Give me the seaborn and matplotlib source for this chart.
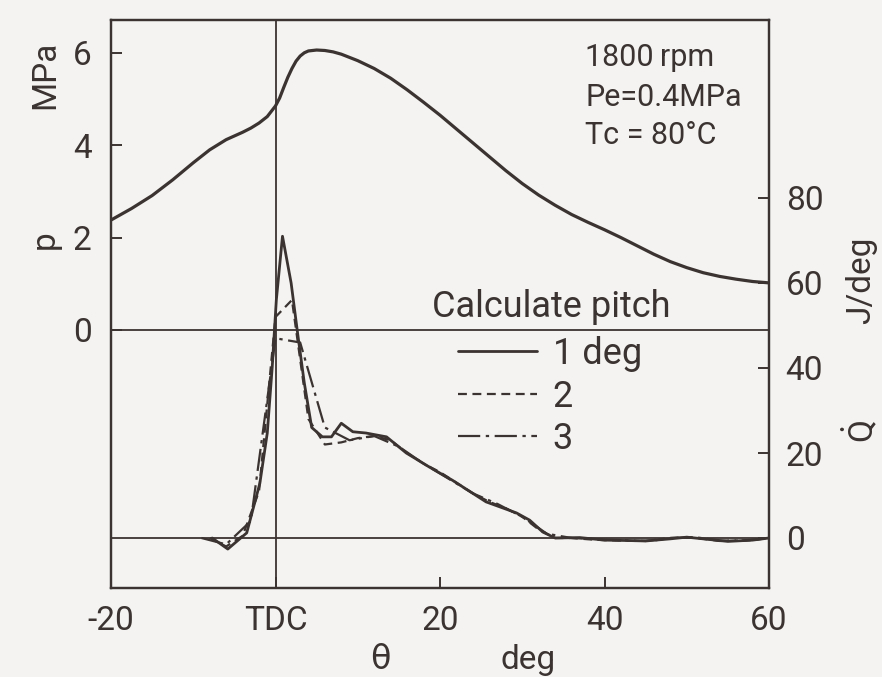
import matplotlib
matplotlib.use("Agg")
import matplotlib.pyplot as plt
import seaborn as sns

sns.set_style("white")
plt.rcParams['font.family'] = ['Roboto', 'DejaVu Sans']
plt.rcParams['mathtext.fontset'] = 'custom'
plt.rcParams['mathtext.rm'] = 'Roboto'

# ---------------- data ----------------
# cylinder pressure p (MPa) vs crank angle theta (deg)
theta_p = [-20, -17.5, -15, -12.5, -10, -8, -6, -4, -3, -2, -1, 0, 0.5, 1, 1.5, 2, 2.5, 3,
           3.5, 4, 5, 6, 7, 8, 9, 10, 12, 14, 16, 18, 20, 22, 24, 26, 28, 30, 32, 34, 36,
           38, 40, 42, 44, 46, 48, 50, 52, 54, 56, 58, 60]
p_vals = [2.38, 2.63, 2.91, 3.25, 3.62, 3.90, 4.12, 4.28, 4.37, 4.48, 4.62, 4.85, 5.02,
          5.25, 5.47, 5.66, 5.82, 5.93, 6.0, 6.04, 6.06, 6.05, 6.02, 5.97, 5.9, 5.83, 5.66,
          5.45, 5.2, 4.93, 4.65, 4.35, 4.05, 3.75, 3.45, 3.17, 2.92, 2.7, 2.5, 2.33, 2.17,
          2.0, 1.82, 1.64, 1.48, 1.35, 1.24, 1.16, 1.1, 1.05, 1.02]

# heat release rate Qdot (J/deg), calculation pitch 1 deg
theta_q1 = [-7.7, -5.8, -3.5, -1.9, -1.0, -0.4, 0.1, 0.85, 1.9, 2.7, 3.5, 4.4, 5.7, 6.8, 8.0,
            9.4, 11, 13.5, 15.9, 18.7, 21.5, 25.6, 29.3, 30.9, 32.5, 34, 37, 40, 43, 45, 48,
            50, 53, 55, 58, 60]
q1_vals = [0, -2.6, 1.2, 12.9, 24.7, 40.2, 56, 71, 60, 48, 36.5, 26, 23.8, 23.8, 27,
           25, 24.7, 23.8, 20, 16.7, 13.6, 8.5, 5.9, 4.2, 1.4, 0, 0.1, -0.5, -0.6, -0.7, -0.2,
           0.2, -0.4, -0.8, -0.5, 0]

# pitch 2 deg
theta_q2 = [-8, -6, -4, -2, 0, 2, 4, 6, 8, 10, 12, 14, 16, 18, 20, 22, 24, 26, 28, 30, 32,
            34, 36, 38, 40, 42, 44, 46, 48, 50, 52, 54, 56, 58, 60]
q2_vals = [0, -2.0, 0.5, 11, 52, 56, 28, 22, 22.5, 23.5, 24, 23, 20, 17.5, 15.5, 13, 10.5,
           8.5, 7, 5, 2, 0, 0, -0.3, -0.5, -0.6, -0.7, -0.6, 0, 0.2, -0.2, -0.7, -0.6, -0.5, 0]

# pitch 3 deg
theta_q3 = [-9, -6, -3, 0, 3, 6, 9, 12, 15, 18, 21, 24, 27, 30, 33, 36, 39, 42, 45, 48, 51,
            54, 57, 60]
q3_vals = [0, -1.5, 4, 47, 46, 26, 23, 24, 21.5, 17.5, 14, 10.5, 8, 5, 1, 0, -0.3, -0.5,
           -0.7, 0, 0.2, -0.6, -0.6, 0]

xtick_vals = [-20, 0, 20, 40, 60]
xtick_labels = ["-20", "TDC", "20", "40", "60"]
p_ticks = [0, 2, 4, 6]
q_ticks = [0, 20, 40, 60, 80]
legend_title = "Calculate pitch"
legend_labels = ["1 deg", "2", "3"]
conditions = ["1800\u2009rpm", "Pe=0.4MPa", "Tc = 80°C"]

# ---------------- style ----------------
INK = "#3a3331"
BG = "#f4f3f1"
W, H = 882, 677
FS = 24

fig = plt.figure(figsize=(W / 100, H / 100), dpi=100, facecolor=BG)
L, R, T, B = 111, 769, 20, 588
ax = fig.add_axes([L / W, 1 - B / H, (R - L) / W, (B - T) / H])
ax.set_facecolor(BG)
ax2 = ax.twinx()

# axis limits mapped from pixel positions
p0_px, p_scale = 330, 46.2
ax.set_xlim(-20, 60)
ax.set_ylim(-(B - p0_px) / p_scale, (p0_px - T) / p_scale)
q0_px, q_scale = 538, 4.25
ax2.set_ylim(-(B - q0_px) / q_scale, (q0_px - T) / q_scale)

# reference lines
ax.axvline(0, color=INK, lw=1.3, zorder=1)
ax.axhline(0, color=INK, lw=1.3, zorder=1)
ax2.axhline(0, color=INK, lw=1.3, zorder=1)

# curves
sns.lineplot(x=theta_p, y=p_vals, ax=ax, color=INK, lw=2.3, sort=False)
sns.lineplot(x=theta_q1, y=q1_vals, ax=ax2, color=INK, lw=2.0, sort=False,
             label=legend_labels[0])
sns.lineplot(x=theta_q2, y=q2_vals, ax=ax2, color=INK, lw=1.6, sort=False,
             linestyle=(0, (4, 2.5)), label=legend_labels[1])
sns.lineplot(x=theta_q3, y=q3_vals, ax=ax2, color=INK, lw=1.6, sort=False,
             linestyle=(0, (10, 2.5, 1.5, 2.5)), label=legend_labels[2])

# ticks
ax.set_xticks(xtick_vals)
ax.set_xticklabels(xtick_labels)
ax.set_yticks(p_ticks)
ax2.set_yticks(q_ticks)
for a in (ax, ax2):
    a.tick_params(direction="in", length=8, width=1.4, color=INK, labelcolor=INK,
                  labelsize=FS)
ax.tick_params(axis="x", pad=12, length=8)
ax.tick_params(axis="y", pad=14)
ax2.tick_params(axis="y", pad=12)
ax.xaxis.set_ticks_position("bottom")
ax2.yaxis.set_ticks_position("right")
ax.yaxis.set_ticks_position("left")
ax.set_xlabel("")
ax.set_ylabel("")
ax2.set_ylabel("")

for a in (ax, ax2):
    for s in a.spines.values():
        s.set_color(INK)
        s.set_linewidth(1.6)

# legend
handles, labels = ax2.get_legend_handles_labels()
leg = ax2.legend(handles, labels, loc="upper left", frameon=False,
                 bbox_to_anchor=(458 / W, 1 - 336 / H), bbox_transform=fig.transFigure,
                 fontsize=26, handlelength=2.2, handletextpad=0.42, labelspacing=0.18,
                 borderaxespad=0, borderpad=0)
for t in leg.get_texts():
    t.set_color(INK)
fig.text(432 / W, 1 - 307 / H, legend_title, fontsize=26, color=INK,
         ha="left", va="center")

# condition annotations
for i, s in enumerate(conditions):
    fig.text(585 / W, 1 - (58 + 39 * i) / H, s, fontsize=22, color=INK,
             ha="left", va="center")

# axis titles
fig.text(45 / W, 1 - 75 / H, "MPa", fontsize=FS, color=INK, rotation=90,
         ha="center", va="center")
fig.text(45 / W, 1 - 240 / H, "p", fontsize=FS, color=INK, rotation=90,
         ha="center", va="center")
fig.text(861 / W, 1 - 280 / H, "J/deg", fontsize=FS, color=INK, rotation=90,
         ha="center", va="center")
fig.text(861 / W, 1 - 432 / H, r"$\dot{\mathrm{Q}}$", fontsize=FS, color=INK, rotation=90,
         ha="center", va="center")
fig.text(380 / W, 1 - 669 / H, "θ", fontsize=24, color=INK, ha="center", va="baseline",
         family=["DejaVu Sans"])
fig.text(528 / W, 1 - 669 / H, "deg", fontsize=24, color=INK, ha="center", va="baseline")

fig.savefig("out.png", dpi=100, facecolor=BG)
